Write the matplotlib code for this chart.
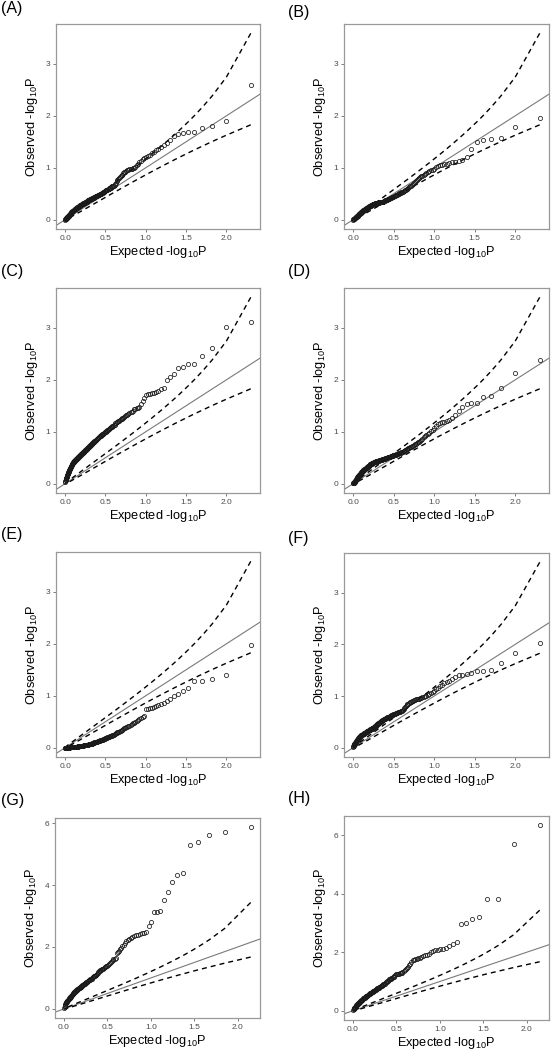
import numpy as np
import matplotlib
matplotlib.use('Agg')
import matplotlib.pyplot as plt

plt.rcParams['font.family'] = ['Liberation Sans', 'DejaVu Sans']
plt.rcParams['mathtext.default'] = 'regular'

W, H, DPI = 551, 1050, 100

panel_labels = ['(A)', '(B)', '(C)', '(D)', '(E)', '(F)', '(G)', '(H)']
x_ticks = [0.0, 0.5, 1.0, 1.5, 2.0]
x_tick_labels = ['0.0', '0.5', '1.0', '1.5', '2.0']
y_ticks_small = [0, 1, 2, 3]
y_ticks_large = [0, 2, 4, 6]
x_title = 'Expected -log$_{10}$P'
y_title = 'Observed -log$_{10}$P'

# observed -log10 P, sorted from largest to smallest
obs_A = [
    2.60, 1.90, 1.81, 1.77, 1.69, 1.69, 1.67, 1.66, 1.62, 1.53,
    1.48, 1.44, 1.40, 1.37, 1.34, 1.31, 1.28, 1.25, 1.22, 1.20,
    1.18, 1.16, 1.13, 1.11, 1.08, 1.05, 1.02, 1.00, 0.99, 0.98,
    0.98, 0.97, 0.96, 0.95, 0.94, 0.92, 0.91, 0.89, 0.87, 0.86,
    0.84, 0.82, 0.80, 0.78, 0.76, 0.74, 0.71, 0.68, 0.66, 0.65,
    0.65, 0.64, 0.63, 0.62, 0.61, 0.61, 0.60, 0.60, 0.59, 0.58,
    0.58, 0.57, 0.57, 0.56, 0.55, 0.54, 0.54, 0.53, 0.52, 0.52,
    0.51, 0.50, 0.50, 0.49, 0.49, 0.48, 0.48, 0.47, 0.47, 0.46,
    0.46, 0.45, 0.45, 0.45, 0.44, 0.44, 0.43, 0.43, 0.42, 0.42,
    0.41, 0.41, 0.41, 0.40, 0.40, 0.40, 0.39, 0.39, 0.39, 0.38,
    0.38, 0.38, 0.37, 0.37, 0.37, 0.36, 0.36, 0.35, 0.35, 0.35,
    0.34, 0.34, 0.34, 0.33, 0.33, 0.33, 0.32, 0.32, 0.32, 0.31,
    0.31, 0.31, 0.30, 0.30, 0.30, 0.29, 0.29, 0.29, 0.28, 0.28,
    0.28, 0.27, 0.27, 0.27, 0.26, 0.26, 0.25, 0.25, 0.25, 0.24,
    0.24, 0.24, 0.23, 0.23, 0.23, 0.22, 0.22, 0.21, 0.21, 0.21,
    0.20, 0.20, 0.20, 0.19, 0.19, 0.18, 0.18, 0.18, 0.17, 0.17,
    0.16, 0.16, 0.16, 0.15, 0.15, 0.14, 0.14, 0.14, 0.13, 0.13,
    0.12, 0.12, 0.11, 0.11, 0.11, 0.10, 0.10, 0.09, 0.09, 0.09,
    0.08, 0.08, 0.07, 0.07, 0.07, 0.06, 0.06, 0.05, 0.05, 0.05,
    0.04, 0.04, 0.03, 0.03, 0.03, 0.02, 0.02, 0.01, 0.01, 0.00,
]
obs_B = [
    1.96, 1.78, 1.58, 1.55, 1.54, 1.49, 1.37, 1.20, 1.15, 1.14,
    1.12, 1.11, 1.09, 1.08, 1.07, 1.06, 1.05, 1.03, 1.01, 0.98,
    0.96, 0.95, 0.93, 0.91, 0.90, 0.88, 0.87, 0.85, 0.84, 0.82,
    0.80, 0.78, 0.76, 0.74, 0.72, 0.70, 0.68, 0.67, 0.65, 0.64,
    0.63, 0.61, 0.60, 0.59, 0.58, 0.57, 0.56, 0.55, 0.54, 0.53,
    0.53, 0.52, 0.51, 0.51, 0.50, 0.49, 0.48, 0.48, 0.47, 0.47,
    0.46, 0.46, 0.45, 0.44, 0.44, 0.43, 0.43, 0.42, 0.42, 0.41,
    0.41, 0.40, 0.40, 0.39, 0.39, 0.38, 0.38, 0.38, 0.37, 0.37,
    0.37, 0.36, 0.36, 0.36, 0.35, 0.35, 0.35, 0.35, 0.34, 0.34,
    0.34, 0.34, 0.34, 0.34, 0.34, 0.33, 0.33, 0.33, 0.33, 0.33,
    0.33, 0.33, 0.32, 0.32, 0.32, 0.32, 0.32, 0.31, 0.31, 0.31,
    0.31, 0.30, 0.30, 0.30, 0.30, 0.29, 0.29, 0.29, 0.28, 0.28,
    0.28, 0.27, 0.27, 0.27, 0.26, 0.26, 0.26, 0.25, 0.25, 0.25,
    0.24, 0.24, 0.24, 0.23, 0.23, 0.23, 0.22, 0.22, 0.21, 0.21,
    0.21, 0.20, 0.20, 0.20, 0.19, 0.19, 0.19, 0.18, 0.18, 0.18,
    0.17, 0.17, 0.17, 0.16, 0.16, 0.15, 0.15, 0.15, 0.14, 0.14,
    0.14, 0.13, 0.13, 0.13, 0.12, 0.12, 0.11, 0.11, 0.11, 0.10,
    0.10, 0.10, 0.09, 0.09, 0.09, 0.08, 0.08, 0.08, 0.07, 0.07,
    0.07, 0.06, 0.06, 0.06, 0.05, 0.05, 0.05, 0.04, 0.04, 0.04,
    0.03, 0.03, 0.03, 0.02, 0.02, 0.02, 0.01, 0.01, 0.01, 0.00,
]
obs_C = [
    3.12, 3.01, 2.62, 2.46, 2.31, 2.30, 2.24, 2.22, 2.12, 2.05,
    2.00, 1.85, 1.82, 1.78, 1.76, 1.75, 1.74, 1.73, 1.72, 1.70,
    1.66, 1.60, 1.53, 1.48, 1.46, 1.45, 1.44, 1.43, 1.41, 1.39,
    1.38, 1.37, 1.35, 1.33, 1.32, 1.30, 1.29, 1.27, 1.26, 1.25,
    1.24, 1.22, 1.21, 1.20, 1.19, 1.18, 1.17, 1.16, 1.14, 1.13,
    1.12, 1.11, 1.10, 1.09, 1.08, 1.07, 1.06, 1.05, 1.04, 1.03,
    1.02, 1.01, 1.00, 0.99, 0.99, 0.98, 0.97, 0.96, 0.95, 0.95,
    0.94, 0.93, 0.92, 0.91, 0.91, 0.90, 0.89, 0.88, 0.88, 0.87,
    0.86, 0.85, 0.85, 0.84, 0.83, 0.83, 0.82, 0.81, 0.80, 0.80,
    0.79, 0.78, 0.77, 0.77, 0.76, 0.75, 0.75, 0.74, 0.73, 0.72,
    0.72, 0.71, 0.70, 0.70, 0.69, 0.68, 0.67, 0.67, 0.66, 0.66,
    0.65, 0.65, 0.64, 0.64, 0.63, 0.63, 0.62, 0.62, 0.61, 0.61,
    0.60, 0.60, 0.59, 0.59, 0.58, 0.58, 0.57, 0.57, 0.56, 0.56,
    0.55, 0.55, 0.54, 0.54, 0.53, 0.53, 0.52, 0.52, 0.51, 0.51,
    0.50, 0.50, 0.49, 0.49, 0.48, 0.48, 0.47, 0.47, 0.46, 0.46,
    0.45, 0.45, 0.44, 0.44, 0.43, 0.43, 0.42, 0.42, 0.41, 0.40,
    0.40, 0.39, 0.38, 0.38, 0.37, 0.36, 0.36, 0.35, 0.34, 0.33,
    0.32, 0.32, 0.31, 0.30, 0.29, 0.28, 0.28, 0.27, 0.26, 0.25,
    0.24, 0.23, 0.22, 0.21, 0.20, 0.19, 0.18, 0.17, 0.16, 0.15,
    0.14, 0.13, 0.12, 0.11, 0.10, 0.09, 0.08, 0.07, 0.06, 0.04,
]
obs_D = [
    2.38, 2.13, 1.84, 1.69, 1.67, 1.56, 1.55, 1.54, 1.48, 1.40,
    1.33, 1.27, 1.22, 1.20, 1.19, 1.18, 1.17, 1.15, 1.12, 1.08,
    1.04, 1.01, 0.98, 0.95, 0.93, 0.91, 0.89, 0.87, 0.85, 0.83,
    0.81, 0.80, 0.78, 0.77, 0.76, 0.75, 0.73, 0.72, 0.71, 0.70,
    0.69, 0.68, 0.67, 0.66, 0.65, 0.64, 0.63, 0.63, 0.62, 0.61,
    0.61, 0.60, 0.60, 0.59, 0.59, 0.58, 0.58, 0.57, 0.57, 0.56,
    0.56, 0.55, 0.55, 0.55, 0.54, 0.54, 0.53, 0.53, 0.53, 0.52,
    0.52, 0.52, 0.51, 0.51, 0.51, 0.50, 0.50, 0.50, 0.49, 0.49,
    0.49, 0.48, 0.48, 0.48, 0.47, 0.47, 0.47, 0.47, 0.46, 0.46,
    0.46, 0.46, 0.45, 0.45, 0.45, 0.45, 0.44, 0.44, 0.44, 0.44,
    0.44, 0.43, 0.43, 0.43, 0.43, 0.42, 0.42, 0.42, 0.42, 0.41,
    0.41, 0.41, 0.40, 0.40, 0.40, 0.39, 0.39, 0.39, 0.38, 0.38,
    0.38, 0.37, 0.37, 0.37, 0.36, 0.36, 0.35, 0.35, 0.35, 0.34,
    0.34, 0.33, 0.33, 0.33, 0.32, 0.32, 0.31, 0.31, 0.31, 0.30,
    0.30, 0.29, 0.29, 0.28, 0.28, 0.28, 0.27, 0.27, 0.26, 0.26,
    0.26, 0.25, 0.25, 0.24, 0.24, 0.23, 0.23, 0.22, 0.22, 0.21,
    0.21, 0.20, 0.20, 0.19, 0.19, 0.18, 0.18, 0.17, 0.17, 0.16,
    0.16, 0.15, 0.14, 0.14, 0.13, 0.13, 0.12, 0.12, 0.11, 0.10,
    0.10, 0.09, 0.09, 0.08, 0.08, 0.07, 0.07, 0.06, 0.06, 0.05,
    0.05, 0.04, 0.04, 0.03, 0.03, 0.02, 0.02, 0.01, 0.01, 0.01,
]
obs_E = [
    1.97, 1.41, 1.32, 1.29, 1.28, 1.15, 1.10, 1.03, 1.00, 0.93,
    0.90, 0.87, 0.84, 0.82, 0.80, 0.78, 0.77, 0.76, 0.75, 0.74,
    0.61, 0.59, 0.57, 0.55, 0.53, 0.51, 0.50, 0.48, 0.47, 0.45,
    0.44, 0.42, 0.41, 0.40, 0.39, 0.38, 0.37, 0.36, 0.35, 0.34,
    0.33, 0.32, 0.31, 0.30, 0.30, 0.29, 0.28, 0.27, 0.26, 0.25,
    0.25, 0.24, 0.23, 0.23, 0.22, 0.22, 0.21, 0.21, 0.20, 0.20,
    0.19, 0.19, 0.18, 0.18, 0.17, 0.17, 0.16, 0.16, 0.15, 0.15,
    0.15, 0.14, 0.14, 0.14, 0.13, 0.13, 0.13, 0.12, 0.12, 0.11,
    0.11, 0.11, 0.11, 0.10, 0.10, 0.10, 0.10, 0.09, 0.09, 0.09,
    0.09, 0.09, 0.08, 0.08, 0.08, 0.08, 0.08, 0.07, 0.07, 0.07,
    0.07, 0.07, 0.07, 0.06, 0.06, 0.06, 0.06, 0.06, 0.06, 0.06,
    0.05, 0.05, 0.05, 0.05, 0.05, 0.05, 0.05, 0.05, 0.04, 0.04,
    0.04, 0.04, 0.04, 0.04, 0.04, 0.04, 0.04, 0.04, 0.03, 0.03,
    0.03, 0.03, 0.03, 0.03, 0.03, 0.03, 0.03, 0.03, 0.03, 0.02,
    0.02, 0.02, 0.02, 0.02, 0.02, 0.02, 0.02, 0.02, 0.02, 0.02,
    0.02, 0.02, 0.02, 0.02, 0.02, 0.01, 0.01, 0.01, 0.01, 0.01,
    0.01, 0.01, 0.01, 0.01, 0.01, 0.01, 0.01, 0.01, 0.01, 0.01,
    0.01, 0.01, 0.01, 0.01, 0.01, 0.01, 0.01, 0.00, 0.00, 0.00,
    0.00, 0.00, 0.00, 0.00, 0.00, 0.00, 0.00, 0.00, 0.00, 0.00,
    0.00, 0.00, 0.00, 0.00, 0.00, 0.00, 0.00, 0.00, 0.00, 0.00,
]
obs_F = [
    2.02, 1.84, 1.65, 1.51, 1.49, 1.48, 1.44, 1.42, 1.41, 1.40,
    1.36, 1.33, 1.30, 1.28, 1.25, 1.22, 1.19, 1.16, 1.13, 1.10,
    1.08, 1.06, 1.04, 1.02, 1.01, 1.00, 0.99, 0.98, 0.97, 0.96,
    0.95, 0.95, 0.94, 0.94, 0.93, 0.92, 0.91, 0.90, 0.89, 0.88,
    0.86, 0.85, 0.84, 0.83, 0.81, 0.79, 0.77, 0.75, 0.73, 0.72,
    0.71, 0.71, 0.70, 0.70, 0.69, 0.69, 0.68, 0.68, 0.67, 0.67,
    0.66, 0.66, 0.65, 0.65, 0.64, 0.64, 0.63, 0.63, 0.62, 0.62,
    0.61, 0.60, 0.60, 0.59, 0.59, 0.59, 0.58, 0.58, 0.57, 0.57,
    0.56, 0.56, 0.55, 0.55, 0.54, 0.54, 0.53, 0.53, 0.52, 0.52,
    0.51, 0.50, 0.50, 0.49, 0.49, 0.48, 0.47, 0.47, 0.46, 0.46,
    0.45, 0.45, 0.44, 0.44, 0.43, 0.43, 0.42, 0.42, 0.41, 0.41,
    0.40, 0.40, 0.39, 0.39, 0.38, 0.38, 0.38, 0.37, 0.37, 0.37,
    0.36, 0.36, 0.36, 0.35, 0.35, 0.35, 0.34, 0.34, 0.34, 0.33,
    0.33, 0.33, 0.32, 0.32, 0.32, 0.31, 0.31, 0.31, 0.30, 0.30,
    0.30, 0.29, 0.29, 0.29, 0.28, 0.28, 0.28, 0.27, 0.27, 0.27,
    0.26, 0.26, 0.26, 0.26, 0.25, 0.25, 0.25, 0.25, 0.24, 0.24,
    0.24, 0.23, 0.23, 0.22, 0.22, 0.21, 0.21, 0.20, 0.20, 0.19,
    0.19, 0.18, 0.18, 0.17, 0.17, 0.16, 0.16, 0.15, 0.15, 0.14,
    0.14, 0.13, 0.13, 0.12, 0.12, 0.11, 0.11, 0.10, 0.10, 0.09,
    0.09, 0.08, 0.08, 0.07, 0.07, 0.06, 0.05, 0.04, 0.03, 0.02,
]
obs_G = [
    5.87, 5.72, 5.63, 5.39, 5.30, 4.38, 4.33, 4.11, 3.79, 3.53,
    3.15, 3.13, 3.12, 2.80, 2.67, 2.48, 2.46, 2.44, 2.42, 2.40,
    2.38, 2.36, 2.33, 2.30, 2.27, 2.24, 2.18, 2.12, 2.06, 2.02,
    1.98, 1.93, 1.88, 1.83, 1.80, 1.64, 1.62, 1.60, 1.58, 1.55,
    1.50, 1.48, 1.46, 1.43, 1.40, 1.38, 1.36, 1.34, 1.32, 1.30,
    1.29, 1.28, 1.27, 1.26, 1.24, 1.21, 1.18, 1.15, 1.12, 1.10,
    1.08, 1.07, 1.06, 1.05, 1.04, 1.02, 1.00, 0.98, 0.97, 0.95,
    0.94, 0.93, 0.92, 0.91, 0.90, 0.88, 0.87, 0.86, 0.84, 0.83,
    0.82, 0.81, 0.80, 0.79, 0.78, 0.77, 0.76, 0.75, 0.74, 0.72,
    0.71, 0.70, 0.69, 0.68, 0.67, 0.66, 0.65, 0.64, 0.63, 0.62,
    0.61, 0.60, 0.59, 0.58, 0.57, 0.56, 0.55, 0.53, 0.52, 0.50,
    0.49, 0.48, 0.46, 0.45, 0.44, 0.42, 0.41, 0.40, 0.38, 0.37,
    0.36, 0.35, 0.34, 0.33, 0.32, 0.30, 0.29, 0.28, 0.26, 0.25,
    0.24, 0.23, 0.21, 0.20, 0.18, 0.16, 0.14, 0.11, 0.07, 0.03,
]
obs_H = [
    6.34, 5.70, 3.82, 3.82, 3.19, 3.15, 3.01, 2.96, 2.35, 2.27,
    2.20, 2.15, 2.12, 2.10, 2.09, 2.08, 2.05, 2.00, 1.95, 1.92,
    1.90, 1.86, 1.83, 1.81, 1.79, 1.78, 1.77, 1.75, 1.72, 1.68,
    1.60, 1.55, 1.50, 1.46, 1.42, 1.38, 1.35, 1.31, 1.29, 1.28,
    1.28, 1.27, 1.27, 1.26, 1.25, 1.22, 1.19, 1.17, 1.15, 1.13,
    1.11, 1.10, 1.09, 1.07, 1.05, 1.03, 1.01, 0.99, 0.97, 0.95,
    0.93, 0.92, 0.90, 0.89, 0.87, 0.86, 0.84, 0.83, 0.82, 0.81,
    0.79, 0.78, 0.77, 0.76, 0.74, 0.73, 0.72, 0.71, 0.70, 0.69,
    0.68, 0.67, 0.66, 0.65, 0.64, 0.63, 0.62, 0.61, 0.60, 0.59,
    0.58, 0.57, 0.56, 0.55, 0.54, 0.53, 0.52, 0.51, 0.50, 0.49,
    0.48, 0.47, 0.46, 0.45, 0.44, 0.43, 0.42, 0.41, 0.39, 0.38,
    0.37, 0.36, 0.35, 0.34, 0.33, 0.32, 0.31, 0.30, 0.29, 0.28,
    0.27, 0.26, 0.25, 0.24, 0.23, 0.22, 0.21, 0.19, 0.18, 0.17,
    0.16, 0.15, 0.14, 0.12, 0.11, 0.10, 0.08, 0.07, 0.05, 0.02,
]

observed = [obs_A, obs_B, obs_C, obs_D, obs_E, obs_F, obs_G, obs_H]
y_ticks = [y_ticks_small] * 6 + [y_ticks_large] * 2

# axes boxes in pixels: left, top, right, bottom
boxes = [
    (56, 24, 260, 229), (344, 24, 549, 229),
    (56, 288, 260, 493), (344, 288, 549, 493),
    (56, 552, 260, 757), (344, 553, 549, 757),
    (55, 818, 260, 1018), (344, 816, 549, 1020),
]
label_pos = [
    (1, 9), (288, 12), (1, 271), (288, 272),
    (1, 534), (288, 538), (1, 801), (288, 799),
]


def beta_band(n, lo=0.05, hi=0.95):
    t = np.linspace(1e-7, 7.5, 60000)
    u = 10.0 ** (-t)
    logu = np.log(u)
    log1m = np.log1p(-u)
    lower = np.empty(n)
    upper = np.empty(n)
    for k in range(1, n + 1):
        a, b = k, n - k + 1
        ld = a * logu + (b - 1) * log1m
        ld -= ld.max()
        c = np.cumsum(np.exp(ld))
        c /= c[-1]
        lower[k - 1] = np.interp(lo, c, t)
        upper[k - 1] = np.interp(hi, c, t)
    return lower, upper


fig = plt.figure(figsize=(W / DPI, H / DPI), dpi=DPI)
fig.patch.set_facecolor('white')

border_col = '#999999'
band_cache = {}
for idx, obs in enumerate(observed):
    obs = np.asarray(obs, dtype=float)
    n = len(obs)
    i = np.arange(1, n + 1)
    expected = -np.log10(i / (n + 1))
    if n not in band_cache:
        band_cache[n] = beta_band(n)
    lower, upper = band_cache[n]

    l, t, r, b = boxes[idx]
    ax = fig.add_axes([l / W, 1 - b / H, (r - l) / W, (b - t) / H])

    ax.axline((0, 0), slope=1, color='#7a7a7a', lw=0.8, zorder=1)
    ax.plot(expected, upper, color='black', lw=1.0, ls=(0, (3.6, 2.9)), zorder=2)
    ax.plot(expected, lower, color='black', lw=1.0, ls=(0, (3.6, 2.9)), zorder=2)
    ax.plot(expected, obs, ls='none', marker='o', ms=3.0, mfc='none',
            mec='#1a1a1a', mew=0.55, zorder=3)

    xmin, xmax = expected.min(), expected.max()
    xr = xmax - xmin
    ax.set_xlim(xmin - 0.05 * xr, xmax + 0.05 * xr)
    ylo = min(obs.min(), lower.min())
    yhi = max(obs.max(), upper.max())
    yr = yhi - ylo
    ax.set_ylim(ylo - 0.05 * yr, yhi + 0.05 * yr)

    ax.set_xticks(x_ticks)
    ax.set_xticklabels(x_tick_labels)
    ax.set_yticks(y_ticks[idx])
    ax.set_yticklabels([str(v) for v in y_ticks[idx]])
    ax.tick_params(axis='both', direction='out', length=2.2, width=0.6,
                   color='#666666', labelcolor='#4d4d4d', labelsize=6.0, pad=1.8)
    for sp in ax.spines.values():
        sp.set_color(border_col)
        sp.set_linewidth(0.9)
    ax.set_xlabel(x_title, fontsize=9.2, color='black', labelpad=2.0)
    ax.set_ylabel(y_title, fontsize=9.2, color='black', labelpad=4.0)

    lx, ly = label_pos[idx]
    fig.text(lx / W, 1 - ly / H, panel_labels[idx], fontsize=11.5,
             ha='left', va='center', color='black')

fig.savefig('out.png', dpi=DPI, facecolor='white')
